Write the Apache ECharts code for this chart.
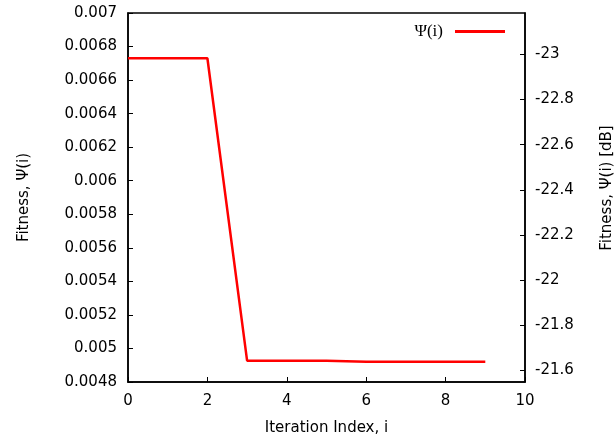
<!DOCTYPE html>
<html>
<head>
<meta charset="utf-8">
<script src="https://cdn.jsdelivr.net/npm/echarts@6/dist/echarts.min.js"></script>
<style>html,body{margin:0;padding:0;background:#fff}#c{width:615px;height:441px}</style>
</head>
<body>
<div id="c"></div>
<script>
var iterations = [0, 1, 2, 3, 4, 5, 6, 7, 8, 9];
var fitness = [0.00673, 0.00673, 0.00673, 0.004927, 0.004927, 0.004927, 0.004921, 0.004921, 0.004921, 0.004921];
var rightTicks = [-23, -22.8, -22.6, -22.4, -22.2, -22, -21.8, -21.6];
var seriesName = 'Ψ(i)';

var chart = echarts.init(document.getElementById('c'), null, {renderer: 'canvas'});
var font = 'DejaVu Sans, sans-serif';
var labelStyle = {color: '#000', fontFamily: font, fontSize: 15};
chart.setOption({
  animation: false,
  grid: {left: 128, right: 90, top: 13, bottom: 58, show: true, borderColor: '#000', borderWidth: 1.5},
  legend: {
    right: 110, top: 23, padding: 0, align: 'right', itemWidth: 50, itemHeight: 3,
    icon: 'rect',
    textStyle: {fontFamily: 'Liberation Serif, Times New Roman, serif', fontSize: 17, color: '#000', padding: [0, 7, 0, 0]},
    data: [seriesName]
  },
  xAxis: {
    type: 'value', min: 0, max: 10, interval: 2,
    name: 'Iteration Index, i', nameLocation: 'middle', nameGap: 39,
    nameTextStyle: labelStyle,
    axisLine: {show: true, lineStyle: {color: '#000', width: 1.5}},
    axisTick: {inside: true, length: 5, lineStyle: {color: '#000'}},
    axisLabel: Object.assign({margin: 12}, labelStyle),
    splitLine: {show: false}
  },
  yAxis: [{
    type: 'value', min: 0.0048, max: 0.007, interval: 0.0002,
    name: 'Fitness, Ψ(i)', nameLocation: 'middle', nameGap: 96,
    nameTextStyle: labelStyle,
    axisLine: {show: true, lineStyle: {color: '#000', width: 1.5}},
    axisTick: {inside: true, length: 5, lineStyle: {color: '#000'}},
    axisLabel: Object.assign({margin: 11, formatter: function (v) { return String(+v.toFixed(4)); }}, labelStyle),
    splitLine: {show: false}
  }, {
    type: 'value', position: 'right', inverse: true, min: -23.183, max: -21.549,
    axisLine: {show: true, lineStyle: {color: '#000', width: 1.5}},
    axisTick: {inside: true, length: 5, lineStyle: {color: '#000'}, customValues: rightTicks},
    axisLabel: Object.assign({margin: 10, customValues: rightTicks, formatter: function (v) { return String(+(+v).toFixed(1)); }}, labelStyle),
    splitLine: {show: false}
  }],
  graphic: [{
    type: 'text', x: 600, y: 188, rotation: Math.PI / 2,
    style: {text: 'Fitness, Ψ(i) [dB]', fill: '#000', font: '15px DejaVu Sans, sans-serif', align: 'center', verticalAlign: 'top'}
  }],
  series: [{
    name: seriesName, type: 'line', yAxisIndex: 0,
    data: iterations.map(function (x, i) { return [x, fitness[i]]; }),
    showSymbol: false, symbol: 'none',
    lineStyle: {color: '#ff0000', width: 2.5},
    itemStyle: {color: '#ff0000'}
  }]
});
</script>
</body>
</html>
